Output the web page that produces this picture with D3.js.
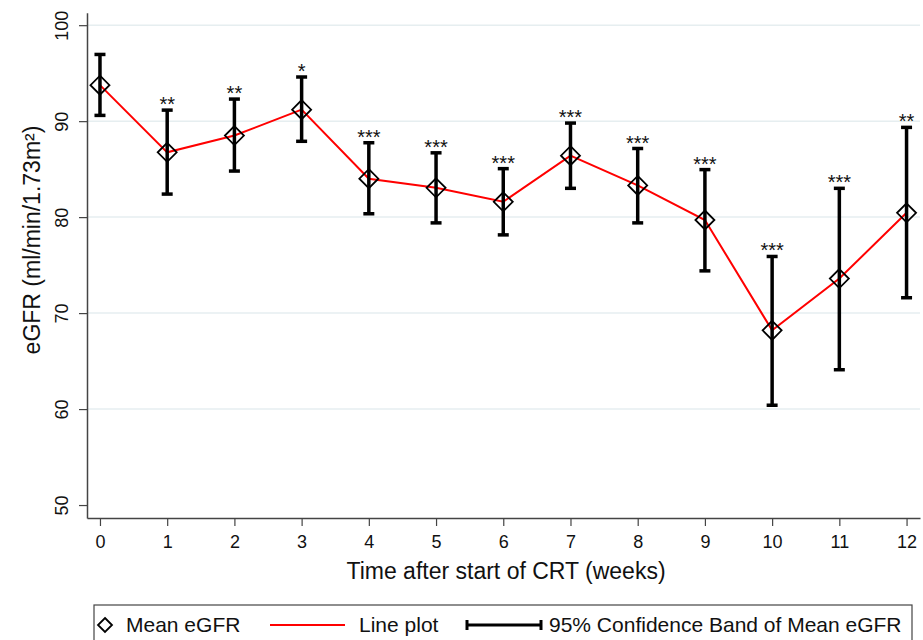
<!DOCTYPE html>
<html>
<head>
<meta charset="utf-8">
<script src="https://cdn.jsdelivr.net/npm/d3@7"></script>
<style>
  body { margin: 0; background: #fff; }
  svg { font-family: "Liberation Sans", Arial, sans-serif; }
</style>
</head>
<body>
<div id="chart-area"></div>
<script>
// data
const weeks = [0, 1, 2, 3, 4, 5, 6, 7, 8, 9, 10, 11, 12]
const meanEgfr = [93.75, 86.75, 88.5, 91.2, 84.0, 83.05, 81.6, 86.4, 83.3, 79.7, 68.2, 73.6, 80.45]
const ciUpper = [96.95, 91.15, 92.3, 94.6, 87.75, 86.7, 85.05, 89.8, 87.15, 84.95, 75.9, 83.0, 89.35]
const ciLower = [90.6, 82.4, 84.8, 87.9, 80.35, 79.4, 78.15, 83.0, 79.4, 74.4, 60.4, 64.1, 71.6]
const stars = ["", "**", "**", "*", "***", "***", "***", "***", "***", "***", "***", "***", "**"]
const yTicks = [50, 60, 70, 80, 90, 100]
const gridTicks = [60, 70, 80, 90, 100]

const WIDTH = 923
const HEIGHT = 640
const FONT = "Liberation Sans, Arial, sans-serif"

const svg = d3.select("#chart-area").append("svg")
  .attr("width", WIDTH)
  .attr("height", HEIGHT)

// Scales (plot region 87..920 x 12.7..518)
const x = d3.scaleLinear()
  .domain([-0.193, 12.2])
  .range([87, 920])

const y = d3.scaleLinear()
  .domain([48.65, 101.3])
  .range([518, 12.7])

// Gridlines
svg.append("g")
  .selectAll("line")
  .data(gridTicks)
  .enter().append("line")
  .attr("x1", x.range()[0])
  .attr("x2", x.range()[1])
  .attr("y1", d => y(d))
  .attr("y2", d => y(d))
  .attr("stroke", "#e6eef0")
  .attr("stroke-width", 1.5)

// Y Axis
const yAxisCall = d3.axisLeft(y)
  .tickValues(yTicks)
  .tickSizeInner(8)
  .tickSizeOuter(0)
  .tickPadding(0)
const yAxis = svg.append("g")
  .attr("transform", `translate(${x.range()[0]}, 0)`)
  .call(yAxisCall)
yAxis.select(".domain").attr("stroke", "#444").attr("stroke-width", 1.5)
yAxis.selectAll(".tick line").attr("stroke", "#444").attr("stroke-width", 1.2)
yAxis.selectAll(".tick text")
  .attr("x", 0)
  .attr("y", 0)
  .attr("transform", "translate(-19, 0) rotate(-90)")
  .attr("text-anchor", "middle")
  .attr("dy", 0)
  .attr("font-size", "18px")
  .attr("fill", "#111")
  .attr("font-family", FONT)

// X Axis
const xAxisCall = d3.axisBottom(x)
  .tickValues(weeks)
  .tickSizeInner(8)
  .tickSizeOuter(0)
  .tickPadding(0)
const xAxis = svg.append("g")
  .attr("transform", `translate(0, ${y.range()[0]})`)
  .call(xAxisCall)
xAxis.select(".domain").attr("stroke", "#444").attr("stroke-width", 1.5)
xAxis.selectAll(".tick line").attr("stroke", "#444").attr("stroke-width", 1.2)
xAxis.selectAll(".tick text")
  .attr("y", 30)
  .attr("dy", 0)
  .attr("font-size", "18px")
  .attr("fill", "#111")
  .attr("font-family", FONT)

// Labels
svg.append("text")
  .attr("x", 506)
  .attr("y", 579)
  .attr("text-anchor", "middle")
  .attr("font-size", "23px")
  .attr("fill", "#111")
  .text("Time after start of CRT (weeks)")

svg.append("text")
  .attr("transform", "translate(40, 240) rotate(-90)")
  .attr("text-anchor", "middle")
  .attr("font-size", "23px")
  .attr("fill", "#111")
  .text("eGFR (ml/min/1.73m²)")

const points = weeks.map((w, i) => ({
  week: w, mean: meanEgfr[i], lo: ciLower[i], hi: ciUpper[i], star: stars[i]
}))

// Line plot
const line = d3.line()
  .x(d => x(d.week))
  .y(d => y(d.mean))
svg.append("path")
  .datum(points)
  .attr("fill", "none")
  .attr("stroke", "#ff0000")
  .attr("stroke-width", 2)
  .attr("d", line)

// Confidence bars
const bars = svg.append("g")
  .attr("stroke", "#000")
  .attr("stroke-width", 3.5)
bars.selectAll(".ci")
  .data(points)
  .enter().append("line")
  .attr("x1", d => x(d.week))
  .attr("x2", d => x(d.week))
  .attr("y1", d => y(d.lo))
  .attr("y2", d => y(d.hi))
bars.selectAll(".cap-hi")
  .data(points)
  .enter().append("line")
  .attr("x1", d => x(d.week) - 5.5)
  .attr("x2", d => x(d.week) + 5.5)
  .attr("y1", d => y(d.hi))
  .attr("y2", d => y(d.hi))
bars.selectAll(".cap-lo")
  .data(points)
  .enter().append("line")
  .attr("x1", d => x(d.week) - 5.5)
  .attr("x2", d => x(d.week) + 5.5)
  .attr("y1", d => y(d.lo))
  .attr("y2", d => y(d.lo))

// Diamonds
const diamond = r => `M0,${-r} L${r},0 L0,${r} L${-r},0 Z`
svg.append("g")
  .selectAll("path")
  .data(points)
  .enter().append("path")
  .attr("transform", d => `translate(${x(d.week)}, ${y(d.mean)})`)
  .attr("d", diamond(9.5))
  .attr("fill", "none")
  .attr("stroke", "#000")
  .attr("stroke-width", 1.8)

// Significance stars
svg.append("g")
  .selectAll("text")
  .data(points)
  .enter().append("text")
  .attr("x", d => x(d.week))
  .attr("y", d => y(d.hi) + 1)
  .attr("text-anchor", "middle")
  .attr("font-size", "20px")
  .attr("fill", "#111")
  .text(d => d.star)

// Legend
const legend = svg.append("g")
legend.append("rect")
  .attr("x", 94)
  .attr("y", 605)
  .attr("width", 818)
  .attr("height", 50)
  .attr("fill", "#fff")
  .attr("stroke", "#444")
  .attr("stroke-width", 1.2)

legend.append("path")
  .attr("transform", "translate(105, 625)")
  .attr("d", diamond(7))
  .attr("fill", "none")
  .attr("stroke", "#000")
  .attr("stroke-width", 1.8)
legend.append("text")
  .attr("x", 126)
  .attr("y", 632)
  .attr("font-size", "21px")
  .attr("fill", "#111")
  .text("Mean eGFR")

legend.append("line")
  .attr("x1", 270).attr("x2", 345)
  .attr("y1", 625).attr("y2", 625)
  .attr("stroke", "#ff0000")
  .attr("stroke-width", 2)
legend.append("text")
  .attr("x", 359)
  .attr("y", 632)
  .attr("font-size", "21px")
  .attr("fill", "#111")
  .text("Line plot")

const ciKey = legend.append("g")
  .attr("stroke", "#000")
  .attr("stroke-width", 3)
ciKey.append("line").attr("x1", 467).attr("x2", 541).attr("y1", 625).attr("y2", 625)
ciKey.append("line").attr("x1", 467).attr("x2", 467).attr("y1", 620).attr("y2", 630)
ciKey.append("line").attr("x1", 541).attr("x2", 541).attr("y1", 620).attr("y2", 630)
legend.append("text")
  .attr("x", 549)
  .attr("y", 632)
  .attr("font-size", "21px")
  .attr("fill", "#111")
  .text("95% Confidence Band of Mean eGFR")
</script>
</body>
</html>
